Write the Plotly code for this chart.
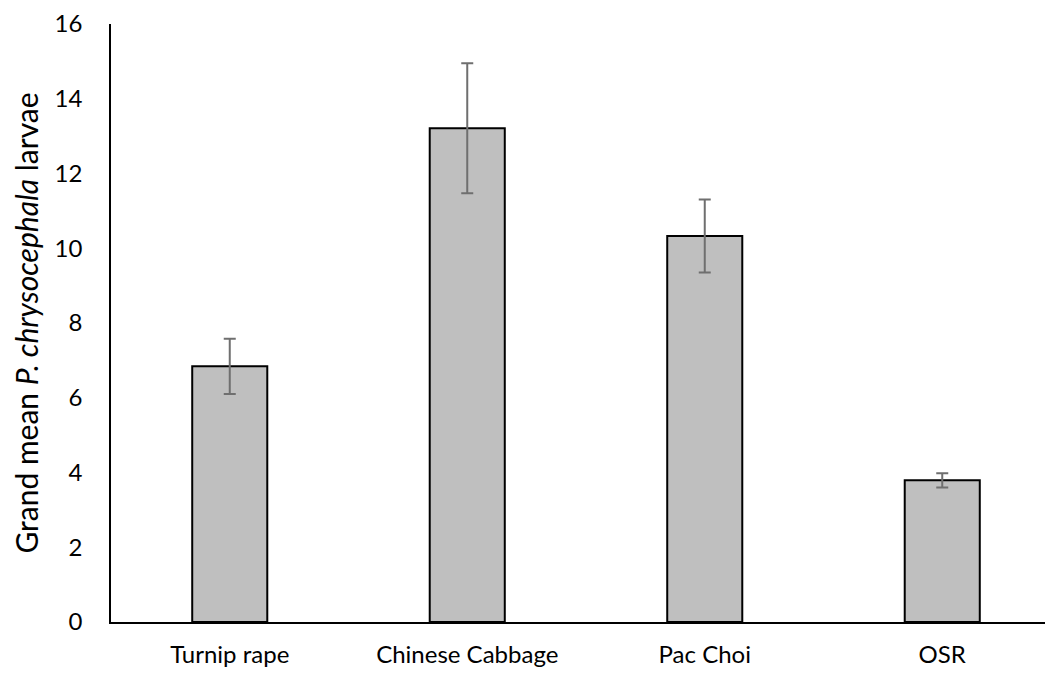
import plotly.graph_objects as go

categories = ["Turnip rape", "Chinese Cabbage", "Pac Choi", "OSR"]
means = [6.84, 13.21, 10.33, 3.79]
errors = [0.74, 1.74, 0.975, 0.19]
y_ticks = [0, 2, 4, 6, 8, 10, 12, 14, 16]

FONT = "Lato, Calibri, Carlito, 'Open Sans', Arial, sans-serif"

fig = go.Figure()
fig.add_trace(go.Bar(
    x=list(range(len(categories))),
    y=means,
    width=0.316,
    marker=dict(color="#BFBFBF", line=dict(color="#000000", width=2)),
    error_y=dict(type="data", array=errors, visible=True,
                 color="#6F6F6F", thickness=2, width=6),
))

fig.update_layout(
    width=1053, height=684,
    margin=dict(l=103, r=0, t=14, b=70),
    plot_bgcolor="white", paper_bgcolor="white",
    showlegend=False,
    font=dict(family=FONT, size=24, color="#000000"),
    xaxis=dict(
        tickmode="array", tickvals=list(range(len(categories))), ticktext=categories,
        range=[-0.5, 3.5], showgrid=False, zeroline=False,
        showline=True, linecolor="#000000", linewidth=1.5, ticks="",
        tickfont=dict(family=FONT, size=24), ticklabelstandoff=10,
    ),
    yaxis=dict(
        range=[0, 16.001], tickvals=y_ticks, showgrid=False, zeroline=False,
        showline=True, linecolor="#000000", linewidth=1.5, ticks="",
        tickfont=dict(family=FONT, size=24), ticklabelstandoff=22,
        ticklabeloverflow="allow",
        title=dict(text="Grand mean <i>P. chrysocephala</i> larvae",
                   font=dict(family=FONT, size=30), standoff=8),
    ),
)

fig.write_html("out.html")
